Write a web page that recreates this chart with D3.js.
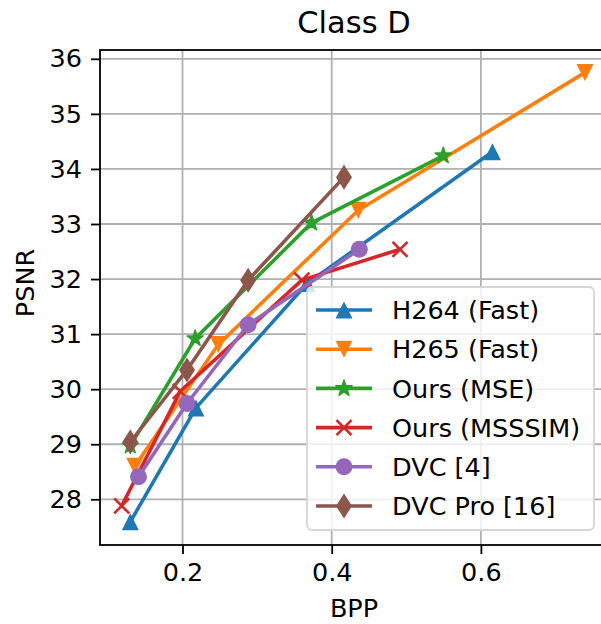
<!DOCTYPE html>
<html>
<head>
<meta charset="utf-8">
<script src="https://cdn.jsdelivr.net/npm/d3@7"></script>
<style>
  body { margin: 0; background: #fff; }
  text { font-family: "DejaVu Sans", sans-serif; fill: #000; }
</style>
</head>
<body>
<div id="chart"></div>
<script>
// values
var seriesNames = ["H264 (Fast)", "H265 (Fast)", "Ours (MSE)", "Ours (MSSSIM)", "DVC [4]", "DVC Pro [16]"];
var h264Bpp = [0.130, 0.218, 0.367, 0.6155],  h264Psnr = [27.59, 29.66, 31.92, 34.31];
var h265Bpp = [0.136, 0.248, 0.4357, 0.7395], h265Psnr = [28.60, 30.81, 33.25, 35.75];
var mseBpp = [0.130, 0.217, 0.373, 0.5496],   msePsnr = [28.97, 30.92, 33.02, 34.24];
var msssimBpp = [0.1185, 0.197, 0.360, 0.4916], msssimPsnr = [27.88, 29.96, 31.98, 32.54];
var dvcBpp = [0.141, 0.206, 0.288, 0.437],    dvcPsnr = [28.41, 29.74, 31.17, 32.54];
var dvcProBpp = [0.130, 0.206, 0.288, 0.4165], dvcProPsnr = [29.04, 30.35, 31.98, 33.85];
var xTicks = [0.2, 0.4, 0.6];
var yTicks = [28, 29, 30, 31, 32, 33, 34, 35, 36];

var colors = ["#1f77b4", "#ff7f0e", "#2ca02c", "#d62728", "#9467bd", "#8c564b"];
var markers = ["up", "down", "star", "x", "circle", "diamond"];
var allBpp = [h264Bpp, h265Bpp, mseBpp, msssimBpp, dvcBpp, dvcProBpp];
var allPsnr = [h264Psnr, h265Psnr, msePsnr, msssimPsnr, dvcPsnr, dvcProPsnr];

var series = seriesNames.map(function (name, i) {
    return {
        name: name, color: colors[i], marker: markers[i],
        points: allBpp[i].map(function (b, j) { return [b, allPsnr[i][j]]; })
    };
});

var W = 601, H = 624;
var m = { left: 100, right: 608, top: 50, bottom: 545 };
var fs = 25.5;

var svg = d3.select("#chart").append("svg")
    .attr("width", W).attr("height", H);

var x = d3.scaleLinear().domain([0.0894, 0.7704]).range([m.left, m.right]);
var y = d3.scaleLinear().domain([27.17, 36.16]).range([m.bottom, m.top]);

// grid
var grid = svg.append("g").attr("stroke", "#b0b0b0").attr("stroke-width", 1.8);
grid.selectAll(".gx").data(xTicks).enter().append("line")
    .attr("x1", d => x(d)).attr("x2", d => x(d)).attr("y1", m.top).attr("y2", m.bottom);
grid.selectAll(".gy").data(yTicks).enter().append("line")
    .attr("x1", m.left).attr("x2", m.right).attr("y1", d => y(d)).attr("y2", d => y(d));

// axes
var xAxis = d3.axisBottom(x).tickValues(xTicks).tickFormat(d3.format(".1f")).tickSizeInner(9).tickSizeOuter(0).tickPadding(9);
var yAxis = d3.axisLeft(y).tickValues(yTicks).tickFormat(d3.format("d")).tickSizeInner(9).tickSizeOuter(0).tickPadding(9);

var gx = svg.append("g").attr("transform", "translate(0," + m.bottom + ")").call(xAxis);
var gy = svg.append("g").attr("transform", "translate(" + m.left + ",0)").call(yAxis);
[gx, gy].forEach(function (g) {
    g.select(".domain").remove();
    g.selectAll(".tick line").attr("stroke", "#000").attr("stroke-width", 1.8);
    g.selectAll(".tick text").attr("font-size", fs).attr("font-family", "DejaVu Sans").attr("fill", "#000");
});

// clip for data
svg.append("defs").append("clipPath").attr("id", "clip")
    .append("rect").attr("x", m.left).attr("y", m.top).attr("width", m.right - m.left).attr("height", m.bottom - m.top);

function drawMarker(g, kind, color) {
    var s = 8.5;
    if (kind === "up") {
        g.append("path").attr("d", "M0," + (-s) + "L" + (-s) + "," + s + "L" + s + "," + s + "Z").attr("fill", color);
    } else if (kind === "down") {
        g.append("path").attr("d", "M0," + s + "L" + (-s) + "," + (-s) + "L" + s + "," + (-s) + "Z").attr("fill", color);
    } else if (kind === "star") {
        var pts = [];
        for (var k = 0; k < 10; k++) {
            var r = k % 2 === 0 ? 8.5 : 8.5 * 0.382;
            var a = Math.PI * k / 5;
            pts.push([r * Math.sin(a), -r * Math.cos(a)]);
        }
        g.append("path").attr("d", "M" + pts.join("L") + "Z").attr("fill", color)
            .attr("stroke", color).attr("stroke-width", 1.5).attr("stroke-linejoin", "round");
    } else if (kind === "x") {
        var h = 7.5;
        g.append("path").attr("d", "M" + (-h) + "," + (-h) + "L" + h + "," + h + "M" + (-h) + "," + h + "L" + h + "," + (-h))
            .attr("stroke", color).attr("stroke-width", 2.6).attr("fill", "none");
    } else if (kind === "circle") {
        g.append("circle").attr("r", 8.5).attr("fill", color);
    } else if (kind === "diamond") {
        g.append("path").attr("d", "M0,-12.5L8,0L0,12.5L-8,0Z").attr("fill", color);
    }
}

var line = d3.line().x(d => x(d[0])).y(d => y(d[1]));
var plot = svg.append("g").attr("clip-path", "url(#clip)");

series.forEach(function (s) {
    var g = plot.append("g");
    g.append("path").datum(s.points).attr("d", line)
        .attr("fill", "none").attr("stroke", s.color).attr("stroke-width", 3.6)
        .attr("stroke-linejoin", "round").attr("stroke-linecap", "square");
    g.selectAll(".m").data(s.points).enter().append("g")
        .attr("transform", d => "translate(" + x(d[0]) + "," + y(d[1]) + ")")
        .each(function () { drawMarker(d3.select(this), s.marker, s.color); });
});

// spines
svg.append("rect").attr("x", m.left).attr("y", m.top).attr("width", m.right - m.left).attr("height", m.bottom - m.top)
    .attr("stroke", "#000").attr("stroke-width", 1.8).attr("fill", "none");

// legend
var leg = svg.append("g");
leg.append("rect").attr("x", 307).attr("y", 287).attr("width", 287).attr("height", 243).attr("rx", 5)
    .attr("fill", "#fff").attr("fill-opacity", 0.8).attr("stroke", "#d5d5d5").attr("stroke-width", 1.8);
var ly = d3.scalePoint().domain(seriesNames).range([310, 506]);
series.forEach(function (s) {
    var g = leg.append("g").attr("transform", "translate(0," + ly(s.name) + ")");
    g.append("line").attr("x1", 316).attr("x2", 372).attr("y1", 0).attr("y2", 0)
        .attr("stroke", s.color).attr("stroke-width", 3.6);
    drawMarker(g.append("g").attr("transform", "translate(344,0)"), s.marker, s.color);
    g.append("text").attr("x", 392).attr("y", 0).attr("dy", "0.36em").attr("font-size", fs).text(s.name);
});

// labels
svg.append("text").attr("x", (m.left + m.right) / 2).attr("y", 33).attr("text-anchor", "middle")
    .attr("font-size", 30.5).text("Class D");
svg.append("text").attr("x", (m.left + m.right) / 2).attr("y", 617).attr("text-anchor", "middle")
    .attr("font-size", fs).text("BPP");
svg.append("text").attr("transform", "translate(34,283) rotate(-90)")
    .attr("text-anchor", "middle").attr("font-size", fs).text("PSNR");
</script>
</body>
</html>
